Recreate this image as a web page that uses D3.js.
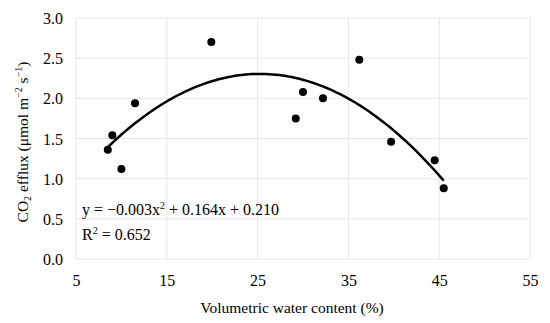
<!DOCTYPE html>
<html>
<head>
<meta charset="utf-8">
<script src="https://cdn.jsdelivr.net/npm/d3@7"></script>
<style>
  body { margin: 0; background: #fff; }
</style>
</head>
<body>
<div id="chart"></div>
<script>
// Measured points: volumetric water content (%) vs CO2 efflux
const waterContent = [8.5, 9.0, 10.0, 11.5, 19.9, 29.2, 30.0, 32.2, 36.2, 39.7, 44.5, 45.5];
const co2Efflux    = [1.36, 1.54, 1.12, 1.94, 2.70, 1.75, 2.08, 2.00, 2.48, 1.46, 1.23, 0.88];

const xTicks = [5, 15, 25, 35, 45, 55];
const yTicks = [0, 0.5, 1.0, 1.5, 2.0, 2.5, 3.0];

const width = 550, height = 323;
const margin = { top: 18, right: 20, bottom: 64, left: 76 };
const serif = "'Liberation Serif', 'Times New Roman', 'DejaVu Serif', serif";

const svg = d3.select("#chart")
    .append("svg")
    .attr("width", width)
    .attr("height", height)
    .attr("font-family", serif);

const x = d3.scaleLinear().domain([5, 55]).range([margin.left, width - margin.right]);
const y = d3.scaleLinear().domain([0, 3]).range([height - margin.bottom, margin.top]);

// gridlines
svg.append("g")
    .selectAll("line")
    .data(yTicks)
    .enter().append("line")
    .attr("x1", x(5)).attr("x2", x(55))
    .attr("y1", d => y(d)).attr("y2", d => y(d))
    .attr("stroke", "#e6e6e6").attr("stroke-width", 1);

svg.append("g")
    .selectAll("line")
    .data(xTicks)
    .enter().append("line")
    .attr("x1", d => x(d)).attr("x2", d => x(d))
    .attr("y1", y(0)).attr("y2", y(3))
    .attr("stroke", "#e6e6e6").attr("stroke-width", 1);

// tick labels
const yAxis = svg.append("g")
    .attr("transform", `translate(${margin.left},0)`)
    .call(d3.axisLeft(y).tickValues(yTicks).tickFormat(d3.format(".1f")).tickSize(0).tickPadding(13));
yAxis.select(".domain").remove();
yAxis.selectAll("text").attr("dy", "0.35em");

const xAxis = svg.append("g")
    .attr("transform", `translate(0,${y(0)})`)
    .call(d3.axisBottom(x).tickValues(xTicks).tickFormat(d3.format("d")).tickSize(0).tickPadding(16));
xAxis.select(".domain").remove();

// least-squares quadratic trendline
function quadFit(xs, ys) {
    let s = [0, 0, 0, 0, 0], t = [0, 0, 0];
    xs.forEach((xi, i) => {
        for (let k = 0; k < 5; k++) s[k] += Math.pow(xi, k);
        for (let k = 0; k < 3; k++) t[k] += Math.pow(xi, k) * ys[i];
    });
    const M = [[s[0], s[1], s[2], t[0]], [s[1], s[2], s[3], t[1]], [s[2], s[3], s[4], t[2]]];
    for (let i = 0; i < 3; i++) {
        for (let j = i + 1; j < 3; j++) {
            const f = M[j][i] / M[i][i];
            for (let k = i; k < 4; k++) M[j][k] -= f * M[i][k];
        }
    }
    const c = [0, 0, 0];
    for (let i = 2; i >= 0; i--) {
        let v = M[i][3];
        for (let k = i + 1; k < 3; k++) v -= M[i][k] * c[k];
        c[i] = v / M[i][i];
    }
    return c; // c0 + c1 x + c2 x^2
}
const coef = quadFit(waterContent, co2Efflux);
const xMin = d3.min(waterContent), xMax = d3.max(waterContent);
const curve = d3.range(0, 101).map(i => {
    const xv = xMin + (xMax - xMin) * i / 100;
    return [xv, coef[0] + coef[1] * xv + coef[2] * xv * xv];
});

svg.append("path")
    .datum(curve)
    .attr("fill", "none")
    .attr("stroke", "#000")
    .attr("stroke-width", 2.5)
    .attr("d", d3.line().x(d => x(d[0])).y(d => y(d[1])));

// points
svg.append("g")
    .selectAll("circle")
    .data(waterContent)
    .enter().append("circle")
    .attr("cx", d => x(d))
    .attr("cy", (d, i) => y(co2Efflux[i]))
    .attr("r", 4)
    .attr("fill", "#000");

// equation
const eq = svg.append("text").attr("x", 82).attr("y", 215).style("font-size", "16px");
eq.append("tspan").text("y = −0.003x");
eq.append("tspan").attr("dy", -6).style("font-size", "10px").text("2");
eq.append("tspan").attr("dy", 6).text(" + 0.164x + 0.210");

const r2 = svg.append("text").attr("x", 82).attr("y", 240).style("font-size", "16px");
r2.append("tspan").text("R");
r2.append("tspan").attr("dy", -6).style("font-size", "10px").text("2");
r2.append("tspan").attr("dy", 6).text(" = 0.652");

// axis titles
svg.append("text")
    .attr("x", 292)
    .attr("y", 313)
    .attr("text-anchor", "middle")
    .style("font-size", "15.5px")
    .text("Volumetric water content (%)");

const yt = svg.append("text")
    .attr("transform", "translate(28,142) rotate(-90)")
    .attr("text-anchor", "middle")
    .style("font-size", "15.5px");
yt.append("tspan").text("CO");
yt.append("tspan").attr("dy", 3).style("font-size", "10px").text("2");
yt.append("tspan").attr("dy", -3).text(" efflux (μmol m");
yt.append("tspan").attr("dy", -6).style("font-size", "10px").text("−2");
yt.append("tspan").attr("dy", 6).text(" s");
yt.append("tspan").attr("dy", -6).style("font-size", "10px").text("−1");
yt.append("tspan").attr("dy", 6).text(")");

// uniform type for every label
svg.selectAll("text")
    .attr("font-family", serif)
    .style("font-family", serif)
    .attr("fill", "#000")
    .each(function () {
        if (!this.style.fontSize) this.style.fontSize = "16px";
    });
</script>
</body>
</html>
